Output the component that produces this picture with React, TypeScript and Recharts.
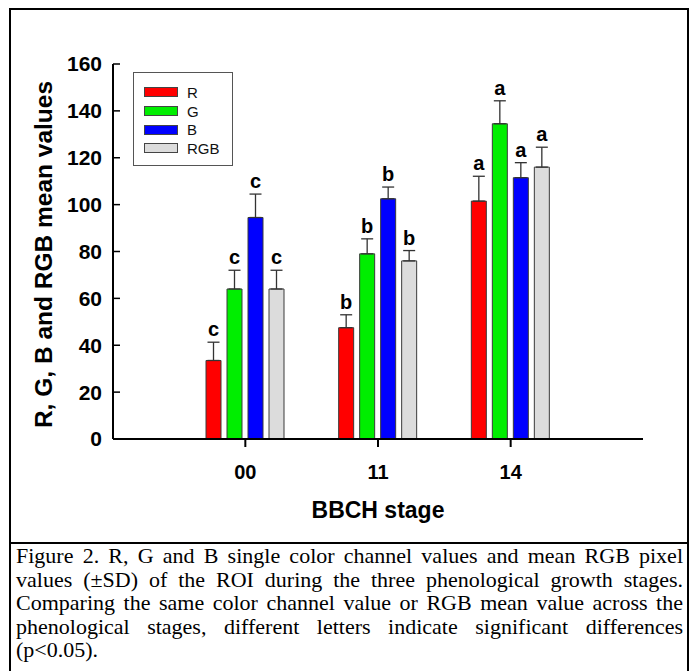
import { BarChart, Bar, XAxis, YAxis, ErrorBar, LabelList, Legend } from "recharts";

const stages = ["00", "11", "14"];
const seriesNames = ["R", "G", "B", "RGB"];
const rMean = [33.5, 47.5, 101.5];
const gMean = [64, 79, 134.5];
const bMean = [94.5, 102.5, 111.5];
const rgbMean = [64, 76, 116];
const rSd = [7.8, 5.5, 10.6];
const gSd = [8, 6.4, 9.8];
const bSd = [10, 5, 6.4];
const rgbSd = [8, 4.4, 8.5];
const letters = ["c", "b", "a"];
const yTicks = [0, 20, 40, 60, 80, 100, 120, 140, 160];

const captionLines = [
  "Figure 2. R, G and B single color channel values and mean RGB pixel",
  "values (±SD) of the ROI during the three phenological growth stages.",
  "Comparing the same color channel value or RGB mean value across the",
  "phenological stages, different letters indicate significant differences",
  "(p<0.05).",
];

const data = stages.map((s, i) => ({
  stage: s,
  r: rMean[i], rErr: [0, rSd[i]],
  g: gMean[i], gErr: [0, gSd[i]],
  b: bMean[i], bErr: [0, bSd[i]],
  rgb: rgbMean[i], rgbErr: [0, rgbSd[i]],
}));

const FONT = "'Liberation Sans', Arial, sans-serif";

function letterLabel(means: number[], sds: number[]) {
  return (props: any) => {
    const { x, y, width, height, index } = props;
    const perUnit = height / means[index];
    const top = y - sds[index] * perUnit;
    return (
      <text x={x + width / 2} y={top - 6} textAnchor="middle"
        fontFamily={FONT} fontWeight="bold" fontSize={20} fill="#000">
        {letters[index]}
      </text>
    );
  };
}

function LegendBox({ payload }: any) {
  const items = [...(payload || [])].sort(
    (a: any, b: any) => seriesNames.indexOf(a.value) - seriesNames.indexOf(b.value));
  return (
    <div style={{ width: 100, height: 94, boxSizing: "border-box", border: "1px solid #555",
      background: "#fff", paddingTop: 10, fontFamily: FONT }}>
      {items.map((p: any) => (
        <div key={p.value} style={{ display: "flex", alignItems: "center", height: 18.7 }}>
          <div style={{ marginLeft: 10, width: 34, height: 10, boxSizing: "border-box",
            background: p.color, border: "1px solid #444" }} />
          <span style={{ marginLeft: 9, fontSize: 15, color: "#111" }}>{p.value}</span>
        </div>
      ))}
    </div>
  );
}

export default function App() {
  const bar = { stroke: "#3a3a3a", strokeWidth: 1, isAnimationActive: false };
  const err = { width: 6, stroke: "#333", strokeWidth: 1.3 };
  return (
    <div style={{ position: "relative", width: 691, height: 671, overflow: "hidden", background: "#fff" }}>
      <style>{"html,body{margin:0;overflow:hidden;background:#fff}"}</style>
      <div style={{ position: "absolute", left: 9, top: 8, width: 680, height: 700,
        border: "2px solid #000", boxSizing: "border-box" }}>
        <BarChart width={676} height={532} data={data} barSize={15} barGap={6}
          margin={{ top: 54, right: 44, left: 0, bottom: 24 }}>
          <XAxis dataKey="stage" height={79} padding={{ left: 66, right: 66 }}
            axisLine={{ stroke: "#000", strokeWidth: 2 }}
            tickLine={{ stroke: "#000", strokeWidth: 2 }} tickSize={8} tickMargin={18}
            tick={{ fill: "#000", fontFamily: FONT, fontWeight: "bold", fontSize: 20 }}
            label={{ value: "BBCH stage", position: "insideBottom", offset: 0,
              style: { fill: "#000", fontFamily: FONT, fontWeight: "bold", fontSize: 23 } }} />
          <XAxis xAxisId="top" dataKey="stage" orientation="top" height={0} tick={false}
            tickLine={false} axisLine={{ stroke: "#000", strokeWidth: 2 }} />
          <YAxis domain={[0, 160]} ticks={yTicks} width={102} interval={0}
            axisLine={{ stroke: "#000", strokeWidth: 2 }}
            tickLine={{ stroke: "#000", strokeWidth: 1.5 }} tickSize={-7} tickMargin={18}
            tick={{ fill: "#000", fontFamily: FONT, fontWeight: "bold", fontSize: 21 }}
            label={(p: any) => {
              const vb = p.viewBox;
              const cx = 32;
              const cy = vb.y + vb.height / 2 + 3;
              return (
                <text x={cx} y={cy} transform={`rotate(-90 ${cx} ${cy})`} textAnchor="middle"
                  dominantBaseline="central" fontFamily={FONT} fontWeight="bold" fontSize={24.5} fill="#000">
                  R, G, B and RGB mean values
                </text>
              );
            }} />
          <YAxis yAxisId="right" orientation="right" width={0} tick={false} tickLine={false}
            axisLine={{ stroke: "#000", strokeWidth: 2 }} />
          <Legend layout="vertical" align="center" verticalAlign="middle" content={<LegendBox />}
            wrapperStyle={{ position: "absolute", left: 122, top: 62, width: 100, height: 94 }} />
          <Bar dataKey="r" name="R" fill="#ff0000" {...bar}>
            <ErrorBar dataKey="rErr" {...err} />
            <LabelList dataKey="r" content={letterLabel(rMean, rSd)} />
          </Bar>
          <Bar dataKey="g" name="G" fill="#00ee00" {...bar}>
            <ErrorBar dataKey="gErr" {...err} />
            <LabelList dataKey="g" content={letterLabel(gMean, gSd)} />
          </Bar>
          <Bar dataKey="b" name="B" fill="#0000ff" {...bar}>
            <ErrorBar dataKey="bErr" {...err} />
            <LabelList dataKey="b" content={letterLabel(bMean, bSd)} />
          </Bar>
          <Bar dataKey="rgb" name="RGB" fill="#dcdcdc" {...bar}>
            <ErrorBar dataKey="rgbErr" {...err} />
            <LabelList dataKey="rgb" content={letterLabel(rgbMean, rgbSd)} />
          </Bar>
        </BarChart>
        <div style={{ borderTop: "2px solid #000", padding: "0 4px 0 5px",
          fontFamily: "'Liberation Serif', 'Times New Roman', serif", fontSize: 22, lineHeight: "23.5px", color: "#000" }}>
          {captionLines.map((l, i) => (
            <div key={i} style={{ textAlign: "justify", textAlignLast: i < captionLines.length - 1 ? "justify" : "left",
              whiteSpace: "nowrap" }}>{l}</div>
          ))}
        </div>
      </div>
    </div>
  );
}
